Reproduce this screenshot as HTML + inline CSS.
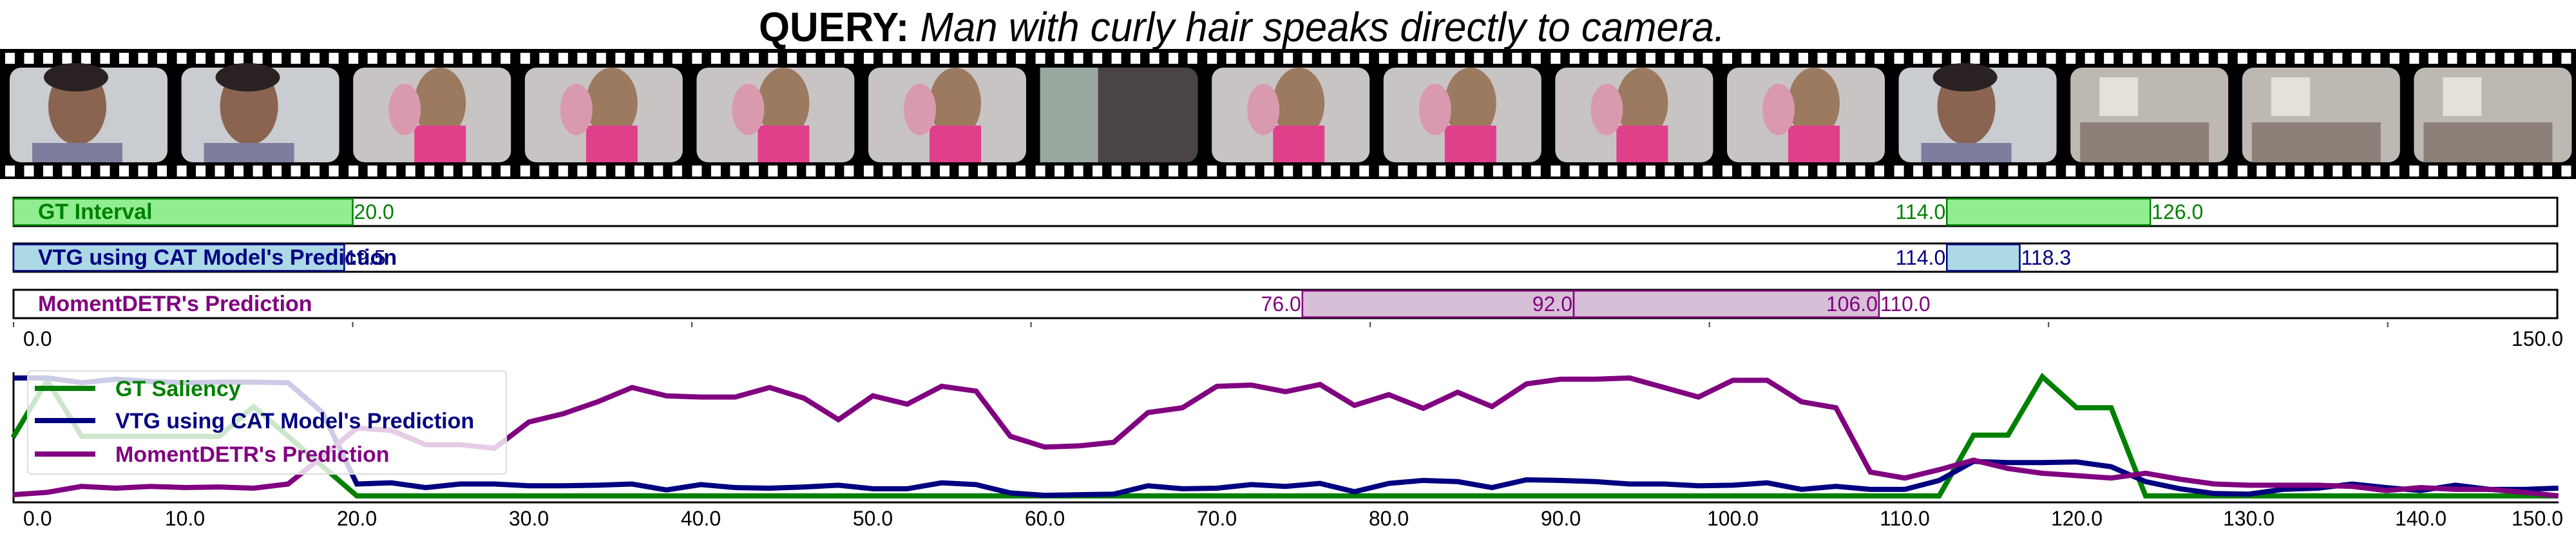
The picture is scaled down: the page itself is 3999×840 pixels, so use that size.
<!DOCTYPE html>
<html><head><meta charset="utf-8"><style>
html,body{margin:0;padding:0;background:#fff;}
svg{display:block;font-family:"Liberation Sans",sans-serif;}
</style></head><body>
<svg id="fig" width="3999" height="840" viewBox="0 0 3999 840" xmlns="http://www.w3.org/2000/svg">
<text x="1178" y="64" font-size="64" textLength="1500" lengthAdjust="spacingAndGlyphs"><tspan font-weight="bold">QUERY:</tspan><tspan font-style="italic"> Man with curly hair speaks directly to camera.</tspan></text>
<g id="film"></g>
<g id="bars"></g>
<g id="lines"></g>
</svg>
<script>
// ---- interval data ----
const gtIntervals = [[0,20],[114,126]];
const vtgIntervals = [[0,19.5],[114,118.3]];
const mdIntervals = [[76,92],[92,110]];
const gtLabels = [["20.0",20,"start"],["114.0",114,"end"],["126.0",126,"start"]];
const vtgLabels = [["19.5",19.5,"start"],["114.0",114,"end"],["118.3",118.3,"start"]];
const mdLabels = [["76.0",76,"end"],["92.0",92,"end"],["106.0",110,"end"],["110.0",110,"start"]];
// ---- saliency data (every 2 s, 0..148) ----
const times = [];
for (let t = 0; t <= 148; t += 2) times.push(t);
const gtSaliency = [0.49,0.97,0.5,0.5,0.5,0.5,0.5,0.75,0.5,0.25,0,0,0,0,0,0,0,0,0,0,0,0,0,0,0,0,0,0,0,0,0,0,0,0,0,0,0,0,0,0,0,0,0,0,0,0,0,0,0,0,0,0,0,0,0,0,0,0.51,0.51,1.0,0.74,0.74,0,0,0,0,0,0,0,0,0,0,0,0,0];
const vtgSaliency = [0.99,0.99,0.95,0.98,0.96,0.95,0.955,0.955,0.95,0.70,0.10,0.11,0.07,0.10,0.10,0.085,0.085,0.09,0.10,0.05,0.095,0.07,0.065,0.075,0.09,0.06,0.06,0.11,0.095,0.025,0.005,0.01,0.015,0.085,0.06,0.065,0.095,0.08,0.105,0.035,0.105,0.13,0.12,0.07,0.135,0.13,0.12,0.10,0.10,0.085,0.09,0.11,0.055,0.08,0.055,0.055,0.13,0.29,0.28,0.28,0.285,0.245,0.12,0.06,0.02,0.015,0.055,0.065,0.10,0.07,0.045,0.09,0.055,0.055,0.065];
const mdSaliency = [0.01,0.03,0.08,0.065,0.08,0.07,0.075,0.065,0.10,0.33,0.57,0.55,0.43,0.43,0.40,0.62,0.69,0.79,0.91,0.84,0.83,0.83,0.91,0.82,0.64,0.84,0.77,0.92,0.88,0.50,0.41,0.42,0.45,0.70,0.74,0.92,0.93,0.875,0.935,0.76,0.85,0.735,0.87,0.75,0.94,0.98,0.98,0.99,0.91,0.83,0.97,0.97,0.79,0.74,0.20,0.15,0.22,0.30,0.23,0.19,0.17,0.15,0.19,0.14,0.10,0.09,0.09,0.09,0.08,0.045,0.07,0.055,0.055,0.03,0.0];
const xTicks = [0,10,20,30,40,50,60,70,80,90,100,110,120,130,140,150];
const topTicks = [0,20,40,60,80,100,120,140];

const NS = "http://www.w3.org/2000/svg";
function mk(tag, attrs, parent){const e=document.createElementNS(NS,tag);for(const k in attrs)e.setAttribute(k,attrs[k]);parent.appendChild(e);return e;}

// ---- filmstrip ----
const film = document.getElementById('film');
mk('rect',{x:0,y:76,width:3999,height:202,fill:'#000'},film);
const frameW = 3999/15;
const frameStyles = ['man','man','girl','girl','girl','girl','dark','girl','girl','girl','girl','man','room','room','room'];
frameStyles.forEach((s,i)=>{
  const x0=i*frameW;
  const g=mk('g',{},film);
  
  
  for(let h=0;h<9;h++){
    mk('rect',{x:x0+8+h*29.5,y:82,width:15,height:17,fill:'#fff'},g);
    mk('rect',{x:x0+8+h*29.5,y:257,width:15,height:17,fill:'#fff'},g);
  }
  const bg={man:'#c9ccd0',girl:'#c8c4c4',dark:'#4a4448',room:'#bdb8b2'}[s];
  mk('rect',{x:x0+15,y:105,width:245,height:147,rx:18,fill:bg},g);
  if(s==='man'){
    mk('ellipse',{cx:x0+120,cy:165,rx:45,ry:60,fill:'#8a6450'},g);
    mk('ellipse',{cx:x0+118,cy:120,rx:50,ry:22,fill:'#2a2222'},g);
    mk('rect',{x:x0+50,y:222,width:140,height:30,fill:'#7d7e9e'},g);
  } else if(s==='girl'){
    mk('ellipse',{cx:x0+150,cy:160,rx:40,ry:55,fill:'#9b7a60'},g);
    mk('rect',{x:x0+110,y:195,width:80,height:57,fill:'#e0408a'},g);
    mk('ellipse',{cx:x0+95,cy:170,rx:25,ry:40,fill:'#d99ab0'},g);
  } else if(s==='dark'){
    mk('rect',{x:x0+15,y:105,width:90,height:147,fill:'#9aa8a0'},g);
  } else {
    mk('rect',{x:x0+30,y:190,width:200,height:62,fill:'#8d8078'},g);
    mk('rect',{x:x0+60,y:120,width:60,height:60,fill:'#e4e0da'},g);
  }
});

// ---- interval bars ----
const bars = document.getElementById('bars');
const bx0=21, bx1=3970;
const bx = v => bx0 + v*(bx1-bx0)/150;
const rows = [
  {name:'gt-interval',label:'GT Interval',y:307,col:'green',fill:'#90EE90',ints:gtIntervals,labs:gtLabels},
  {name:'vtg-prediction',label:"VTG using CAT Model's Prediction",y:378,col:'#000080',fill:'#ADD8E6',ints:vtgIntervals,labs:vtgLabels},
  {name:'momentdetr-prediction',label:"MomentDETR's Prediction",y:450,col:'#800080',fill:'#D8BFD8',ints:mdIntervals,labs:mdLabels}
];
rows.forEach(r=>{
  const g=mk('g',{},bars);
  
  
  mk('rect',{x:bx0,y:r.y,width:bx1-bx0,height:44,fill:'#fff',stroke:'#000','stroke-width':3},g);
  r.ints.forEach(iv=>{
    const b=mk('rect',{x:bx(iv[0]),y:r.y+1.5,width:bx(iv[1])-bx(iv[0]),height:41,fill:r.fill,stroke:r.col,'stroke-width':2.5},g);
    
    
  });
  const t=mk('text',{x:59,y:r.y+33,'font-size':34,'font-weight':'bold',fill:r.col},g);
  t.textContent=r.label;
  
  
  r.labs.forEach(l=>{
    const v=mk('text',{x:bx(l[1])+(l[2]==='start'?2:-2),y:r.y+33,'font-size':32,fill:r.col,'text-anchor':l[2]},g);
    v.textContent=l[0];
    
    
  });
});
topTicks.forEach(t=>{mk('line',{x1:bx(t),x2:bx(t),y1:500,y2:508,stroke:'#444','stroke-width':2},bars);});
let tl=mk('text',{x:36,y:537,'font-size':32},bars);tl.textContent='0.0';


tl=mk('text',{x:3979,y:537,'font-size':32,'text-anchor':'end'},bars);tl.textContent='150.0';



// ---- saliency lines ----
const lg = document.getElementById('lines');
const lx = v => 20 + v*26.7;
const ly = v => 770 - v*185;
mk('line',{x1:21,x2:21,y1:578,y2:781,stroke:'#000','stroke-width':3},lg);
mk('line',{x1:20,x2:3972,y1:780,y2:780,stroke:'#000','stroke-width':3},lg);
const series=[['md-saliency-line',mdSaliency,'#800080'],['vtg-saliency-line',vtgSaliency,'#000080'],['gt-saliency-line',gtSaliency,'green']];
series.slice().reverse().forEach(s=>{
  const p=mk('polyline',{points:times.map((t,i)=>lx(t)+','+ly(s[1][i])).join(' '),fill:'none',stroke:s[2],'stroke-width':8,'stroke-linejoin':'miter'},lg);
  
  
});
xTicks.forEach(t=>{
  let x=lx(t), anchor='middle';
  if(t===0){x=36;anchor='start';}
  if(t===150){x=3979;anchor='end';}
  const e=mk('text',{x:x,y:816,'font-size':32,'text-anchor':anchor},lg);
  e.textContent=t.toFixed(1);
  
  
});
// legend
const leg=mk('g',{},lg);


mk('rect',{x:43,y:576,width:743,height:160,rx:6,fill:'#fff','fill-opacity':0.8,stroke:'#ddd','stroke-width':2},leg);
[['GT Saliency','green',603],["VTG using CAT Model's Prediction",'#000080',653],["MomentDETR's Prediction",'#800080',705]].forEach(e=>{
  mk('line',{x1:54,x2:148,y1:e[2],y2:e[2],stroke:e[1],'stroke-width':8},leg);
  const t=mk('text',{x:179,y:e[2]+12,'font-size':34,'font-weight':'bold',fill:e[1]},leg);
  t.textContent=e[0];
  
  
});
</script>
</body></html>
